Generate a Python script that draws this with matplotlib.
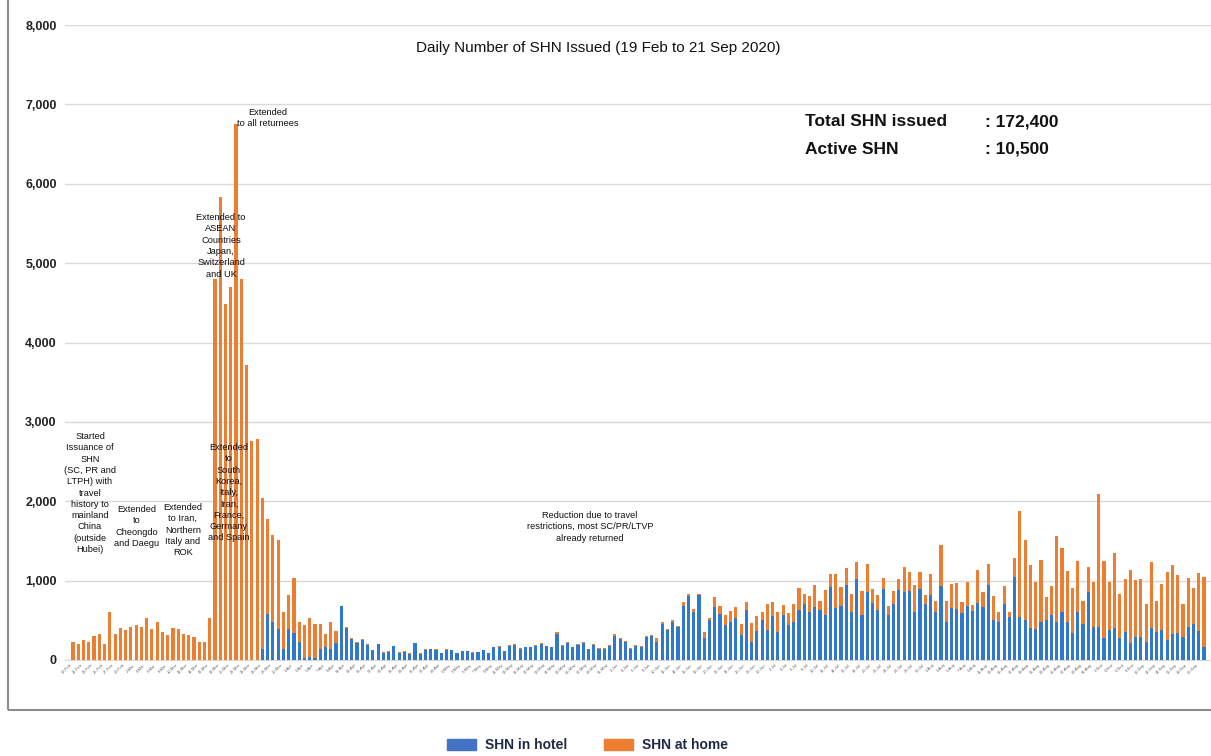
import matplotlib
matplotlib.use("Agg")
import matplotlib.pyplot as plt
from matplotlib.patches import Rectangle
import numpy as np
import pandas as pd

plt.rcParams['font.family'] = ['Liberation Sans', 'DejaVu Sans']

dates = pd.date_range('2020-02-19', '2020-09-21', freq='D')
date_labels = [f"{d.day}-{d.strftime('%b')}" for d in dates]

hotel = [0]*36 + [
    135, 582, 477, 388, 139, 392, 342, 232, 30, 42, 21, 139, 160, 139, 211,
    675, 397, 270, 219, 249, 194, 122, 198, 84, 105, 172, 92, 104, 76, 214,
    78, 131, 134, 122, 88, 127, 120, 88, 108, 108, 92, 95, 120, 88, 160,
    168, 112, 180, 188, 141, 160, 161, 177, 200, 172, 160, 329, 180, 212, 161,
    190, 214, 136, 190, 141, 141, 180, 304, 270, 228, 141, 182, 169, 295, 300,
    224, 456, 375, 473, 412, 684, 810, 599, 819, 278, 510, 667, 574, 435, 473,
    527, 312, 629, 232, 367, 506, 380, 557, 359, 570, 435, 477, 633, 705, 599,
    662, 633, 572, 920, 654, 675, 945, 608, 1025, 561, 861, 717, 633, 899, 561,
    700, 886, 861, 869, 599, 899, 700, 823, 599, 937, 485, 658, 646, 591, 675,
    620, 722, 667, 949, 498, 473, 705, 540, 1042, 540, 498, 409, 392, 473, 506,
    570, 473, 599, 477, 346, 599, 451, 861, 414, 422, 274, 380, 409, 274, 359,
    211, 295, 295, 232, 401, 359, 376, 253, 333, 342, 295, 414, 456, 367, 169]

home = [
    232, 207, 253, 232, 308, 325, 203, 600, 325, 400, 375, 422, 435, 422, 523,
    388, 481, 350, 316, 400, 392, 325, 316, 295, 224, 228, 523, 4800, 5830, 4480,
    4700, 6750, 4800, 3720, 2760, 2780,
    1911, 1198, 1097, 1127, 460, 422, 688, 253, 405, 485, 435, 317, 165, 346, 160,
    9, 21, 4, 5, 13, 4, 5, 5, 21, 13, 5, 5, 6, 13, 5,
    6, 8, 5, 13, 5, 12, 7, 5, 6, 6, 5, 6, 7, 5, 9,
    9, 6, 10, 10, 7, 9, 8, 9, 11, 9, 9, 30, 10, 12, 8,
    13, 14, 7, 13, 7, 7, 10, 21, 13, 12, 7, 8, 8, 13, 16,
    50, 29, 17, 25, 18, 42, 21, 47, 16, 76, 17, 126, 110, 126, 147,
    140, 139, 101, 232, 182, 97, 325, 169, 240, 122, 156, 232, 274, 130, 203,
    287, 105, 316, 163, 426, 245, 211, 227, 207, 312, 350, 182, 186, 135, 114,
    165, 135, 308, 241, 342, 211, 123, 261, 139, 510, 253, 304, 324, 139, 308,
    72, 417, 185, 266, 304, 126, 232, 59, 245, 1340, 1017, 785, 591, 789, 287,
    358, 1084, 806, 650, 557, 646, 287, 316, 569, 1667, 971, 603, 937, 561, 662,
    928, 709, 730, 468, 835, 388, 586, 857, 861, 734, 405, 620, 451, 726, 877]

y_ticks = list(range(0, 8001, 1000))
y_tick_labels = [f"{v:,}" for v in y_ticks]

BLUE = '#2F78CE'
ORANGE = '#ED7D31'

fig = plt.figure(figsize=(12.11, 7.56), dpi=100)
W, H = 1211, 756
ax = fig.add_axes([65 / W, 1 - 660 / H, (1211 - 65) / W, (660 - 25) / H])

x = np.arange(len(dates))
ax.bar(x, hotel, width=0.6, color=BLUE, zorder=3)
ax.bar(x, home, width=0.6, bottom=hotel, color=ORANGE, zorder=3)

ax.set_xlim(-1.52, 216.33)
ax.set_ylim(0, 8000)
ax.set_yticks(y_ticks)
ax.set_yticklabels(y_tick_labels, fontsize=9, fontweight='bold', color='#222222')
ax.yaxis.grid(True, color='#D9D9D9', linewidth=1.0, zorder=0)
ax.set_axisbelow(True)
for s in ['top', 'right', 'left']:
    ax.spines[s].set_visible(False)
ax.spines['bottom'].set_color('#D9D9D9')
ax.tick_params(axis='y', length=0, pad=6)
ax.set_xticks(x[::2])
ax.set_xticklabels(date_labels[::2], rotation=45, ha='right', fontsize=3, color='#666666')
ax.tick_params(axis='x', length=0, pad=2)

# Title and notes
fig.text(598 / W, 1 - 48 / H, 'Daily Number of SHN Issued (19 Feb to 21 Sep 2020)',
         ha='center', va='center', fontsize=11, color='#111111')
fig.text(805 / W, 1 - 122 / H, 'Total SHN issued', ha='left', va='center',
         fontsize=12.5, fontweight='bold', color='#111111')
fig.text(985 / W, 1 - 122 / H, ': 172,400', ha='left', va='center',
         fontsize=12.5, fontweight='bold', color='#111111')
fig.text(805 / W, 1 - 149 / H, 'Active SHN', ha='left', va='center',
         fontsize=12.5, fontweight='bold', color='#111111')
fig.text(985 / W, 1 - 149 / H, ': 10,500', ha='left', va='center',
         fontsize=12.5, fontweight='bold', color='#111111')

notes = [
    (90, 432, "Started\nIssuance of\nSHN\n(SC, PR and\nLTPH) with\ntravel\nhistory to\nmainland\nChina\n(outside\nHubei)"),
    (137, 505, "Extended\nto\nCheongdo\nand Daegu"),
    (183, 503, "Extended\nto Iran,\nNorthern\nItaly and\nROK"),
    (221, 213, "Extended to\nASEAN\nCountries\nJapan,\nSwitzerland\nand UK"),
    (268, 108, "Extended\nto all returnees"),
    (229, 443, "Extended\nto\nSouth\nKorea,\nItaly,\nIran,\nFrance,\nGermany\nand Spain"),
    (590, 511, "Reduction due to travel\nrestrictions, most SC/PR/LTVP\nalready returned"),
]
for nx, ny, txt in notes:
    fig.text(nx / W, 1 - ny / H, txt, ha='center', va='top', fontsize=6.7,
             linespacing=1.33, color='#111111', zorder=5)

# Border box
fig.add_artist(Rectangle((8 / W, 1 - 710 / H), 1.2, 710 / H + 0.02,
                         transform=fig.transFigure, fill=False,
                         edgecolor='#8C8C8C', linewidth=1.5))

# Legend
fig.add_artist(Rectangle((447 / W, 1 - 750 / H), 29 / W, 11 / H,
                         transform=fig.transFigure, color='#4472C4'))
fig.text(485 / W, 1 - 745 / H, 'SHN in hotel', ha='left', va='center',
         fontsize=10, fontweight='bold', color='#1F2A44')
fig.add_artist(Rectangle((604 / W, 1 - 750 / H), 29 / W, 11 / H,
                         transform=fig.transFigure, color=ORANGE))
fig.text(642 / W, 1 - 745 / H, 'SHN at home', ha='left', va='center',
         fontsize=10, fontweight='bold', color='#1F2A44')

fig.savefig('out.png', dpi=100)
